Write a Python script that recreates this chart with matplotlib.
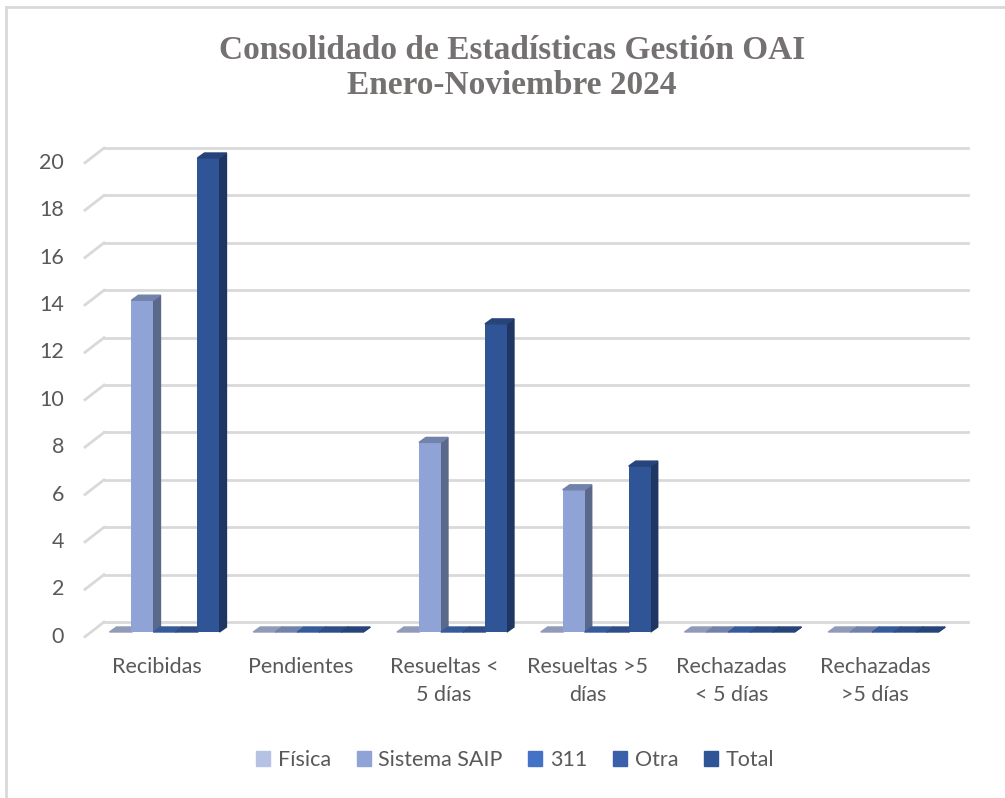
import matplotlib.pyplot as plt
import numpy as np
from matplotlib.patches import Polygon, Patch
from matplotlib.lines import Line2D
from matplotlib.colors import to_rgb

categories = ["Recibidas", "Pendientes", "Resueltas <\n5 días", "Resueltas >5\ndías",
              "Rechazadas\n< 5 días", "Rechazadas\n>5 días"]
series = ["Física", "Sistema SAIP", "311", "Otra", "Total"]
fisica = [0, 0, 0, 0, 0, 0]
saip = [14, 0, 8, 6, 0, 0]
s311 = [0, 0, 0, 0, 0, 0]
otra = [0, 0, 0, 0, 0, 0]
total = [20, 0, 13, 7, 0, 0]
values = [fisica, saip, s311, otra, total]
colors = ["#b6c2e4", "#8fa3d6", "#4472c4", "#3a60ab", "#2f5597"]
yticks = list(range(0, 21, 2))

txt = "#595959"
grid = "#d9d9d9"
fs = 15.5

W, H = 1005, 798
fig = plt.figure(figsize=(W / 100, H / 100), dpi=100)
# axes = front plane of the bars; px per unit: x 143.75, y 23.7
ax = fig.add_axes([92.6 / W, (H - 632) / H, 862.5 / W, 474 / H])
ax.set_xlim(-0.5, 5.5)
ax.set_ylim(0, 20)
ax.axis("off")

pxx = 143.75
pxy = 23.7
ddx, ddy = 7 / pxx, 5 / pxy

# back wall gridlines with the left side-wall diagonal
xb0, xb1, xf = (104 - 92.6) / pxx - 0.5, (968 - 92.6) / pxx - 0.5, (85 - 92.6) / pxx - 0.5
back, front = 0.42, -0.2
for v in yticks:
    ax.plot([xb0, xb1], [v + back, v + back], color=grid, lw=2, clip_on=False, zorder=1)
    ax.plot([xf, xb0], [v + front, v + back], color=grid, lw=2, clip_on=False, zorder=1)
    ax.text((64 - 92.6) / pxx - 0.5, v + front, str(v), ha="right", va="center",
            fontsize=fs, color=txt, family="Lato")


def shade(c, f):
    return tuple(np.array(to_rgb(c)) * f)


w = 22 / pxx
x = np.arange(len(categories))
for j, vals in enumerate(values):
    left = x - 2.5 * w + j * w
    ax.bar(left, vals, width=w, align="edge", color=colors[j], zorder=3 + j * 3, clip_on=False)
    for xl, v in zip(left, vals):
        side = [(xl + w, 0), (xl + w + ddx, ddy), (xl + w + ddx, v + ddy), (xl + w, v)]
        top = [(xl, v), (xl + ddx, v + ddy), (xl + w + ddx, v + ddy), (xl + w, v)]
        ax.add_patch(Polygon(side, closed=True, color=shade(colors[j], 0.64),
                             zorder=2 + j * 3, clip_on=False))
        ax.add_patch(Polygon(top, closed=True, color=shade(colors[j], 0.8),
                             zorder=4 + j * 3, clip_on=False))

for i, lab in enumerate(categories):
    ax.text(i - 8 / pxx, (632 - 657) / pxy, lab, ha="center", va="top", fontsize=fs,
            color=txt, family="Lato", linespacing=1.5)

fig.text(512 / W, 1 - 68 / H, "Consolidado de Estadísticas Gestión OAI\nEnero-Noviembre 2024",
         ha="center", va="center", fontsize=24, fontweight="bold", color="#767171",
         family="Liberation Serif", linespacing=1.2)

handles = [Patch(color=c) for c in colors]
fig.legend(handles, series, loc="center", bbox_to_anchor=(515 / W, 1 - 760 / H), ncol=5,
           frameon=False, handlelength=0.65, handleheight=0.65, handletextpad=0.35,
           columnspacing=1.2, prop={"family": "Lato", "size": fs}, labelcolor=txt)

fig.add_artist(Line2D([5.5 / W, 5.5 / W], [0, 1 - 6.5 / H], color=grid, lw=2))
fig.add_artist(Line2D([5.5 / W, 1], [1 - 6.5 / H, 1 - 6.5 / H], color=grid, lw=2))

fig.savefig("out.png", dpi=100, facecolor="white")
